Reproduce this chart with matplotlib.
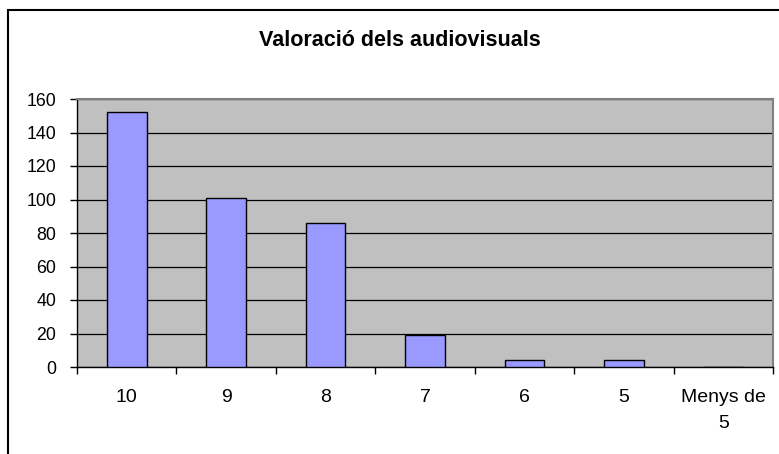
import numpy as np
import matplotlib
matplotlib.use("Agg")
import matplotlib.pyplot as plt
from matplotlib.patches import Rectangle

plt.rcParams['font.family'] = ['Liberation Sans', 'DejaVu Sans']

# --- data ---
categories = ['10', '9', '8', '7', '6', '5', 'Menys de\n5']
counts = [152, 101, 86, 19, 4, 4, 0]
y_ticks = [0, 20, 40, 60, 80, 100, 120, 140, 160]

W, H = 779, 454
fig = plt.figure(figsize=(W / 100, H / 100), dpi=100)

# outer chart frame (runs off the right and bottom edge)
fig.patches.append(Rectangle((8 / W, -0.1), 2.0, 1 - 10 / H + 0.1,
                             transform=fig.transFigure, fill=False,
                             edgecolor='black', linewidth=1.5))

ax = fig.add_axes([77 / W, 87 / H, (773 - 77) / W, (367 - 99) / H])
ax.set_facecolor('#C0C0C0')

x = np.arange(len(categories))
ax.bar(x, counts, width=0.4, color='#9999FF', edgecolor='black',
       linewidth=1.0, zorder=3)

ax.set_xlim(-0.5, len(categories) - 0.5)
ax.set_ylim(0, 160)
ax.set_yticks(y_ticks)
ax.yaxis.grid(True, color='black', linewidth=0.9, zorder=1)
ax.set_axisbelow(True)

# category labels centred, tick marks on the boundaries
ax.set_xticks(x)
ax.set_xticklabels(categories, fontsize=14, linespacing=1.7)
ax.tick_params(axis='x', length=0, pad=16)
ax.set_xticks(np.arange(len(categories) + 1) - 0.5, minor=True)
ax.tick_params(axis='x', which='minor', length=5, width=1, color='black',
               direction='out')
ax.tick_params(axis='y', length=5, width=1, direction='out', pad=10,
               labelsize=12.8)

for side in ('left', 'bottom'):
    ax.spines[side].set_color('black')
    ax.spines[side].set_linewidth(1.0)
for side in ('top', 'right'):
    ax.spines[side].set_color('#808080')
    ax.spines[side].set_linewidth(1.5)

fig.text(400 / W, 1 - 40 / H, 'Valoració dels audiovisuals',
         ha='center', va='center', fontsize=15.5, fontweight='bold')

fig.savefig('out.png', dpi=100)
